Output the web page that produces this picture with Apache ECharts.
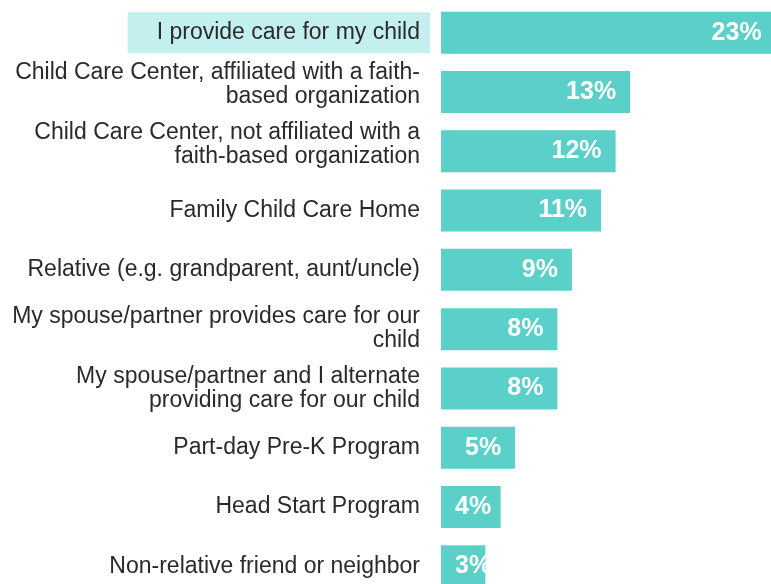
<!DOCTYPE html>
<html>
<head>
<meta charset="utf-8">
<script src="https://cdn.jsdelivr.net/npm/echarts@6/dist/echarts.min.js"></script>
<style>html,body{margin:0;padding:0;background:#fff;}#c{width:771px;height:584px;}</style>
</head>
<body>
<div id="c"></div>
<script>
const categories = [
  "I provide care for my child",
  "Child Care Center, affiliated with a faith-\nbased organization",
  "Child Care Center, not affiliated with a\nfaith-based organization",
  "Family Child Care Home",
  "Relative (e.g. grandparent, aunt/uncle)",
  "My spouse/partner provides care for our\nchild",
  "My spouse/partner and I alternate\nproviding care for our child",
  "Part-day Pre-K Program",
  "Head Start Program",
  "Non-relative friend or neighbor"
];
const values = [23, 13, 12, 11, 9, 8, 8, 5.1, 4.1, 3.05];

const FONT = "'Liberation Sans', Arial, sans-serif";
const TEXT = '#2a2a2a';
const BAR = '#5bd0c8';
const HIGHLIGHT = '#c4efef';

const chart = echarts.init(document.getElementById('c'), null, {renderer: 'canvas'});
chart.setOption({
  animation: false,
  backgroundColor: '#ffffff',
  grid: {left: 441, top: 3, height: 593, width: 363.75, containLabel: false, outerBoundsMode: 'none'},
  xAxis: {type: 'value', min: 0, max: 25, show: false},
  yAxis: {
    type: 'category',
    data: categories,
    inverse: true,
    axisLine: {show: false},
    axisTick: {show: false},
    splitLine: {show: false},
    axisLabel: {
      margin: 11,
      align: 'right',
      formatter: function (value, index) {
        const style = index === 0 ? 'hl' : 't';
        let s = value.split('\n').map(l => '{' + style + '|' + l + '}').join('\n');
        if (index === 1 || index === 2) s += '\n{sp| }';
        return s;
      },
      rich: {
        t: {fontSize: 23, lineHeight: 24, color: TEXT, fontFamily: FONT, align: 'right', padding: [0, 10, 0, 0]},
        hl: {fontSize: 23, lineHeight: 24, color: TEXT, fontFamily: FONT, align: 'right',
             backgroundColor: HIGHLIGHT, padding: [9, 10, 9, 29]},
        sp: {fontSize: 2, lineHeight: 14, align: 'right'}
      }
    }
  },
  series: [{
    type: 'bar',
    barWidth: 42,
    itemStyle: {color: BAR},
    label: {
      show: true,
      position: 'insideRight',
      distance: 14,
      color: '#ffffff',
      fontSize: 25,
      fontWeight: 'bold',
      fontFamily: FONT,
      formatter: p => Math.round(p.value) + '%'
    },
    data: values.map(v => v < 4.5 ? {value: v, label: {position: 'insideLeft', distance: 14}} : {value: v})
  }]
});
</script>
</body>
</html>
